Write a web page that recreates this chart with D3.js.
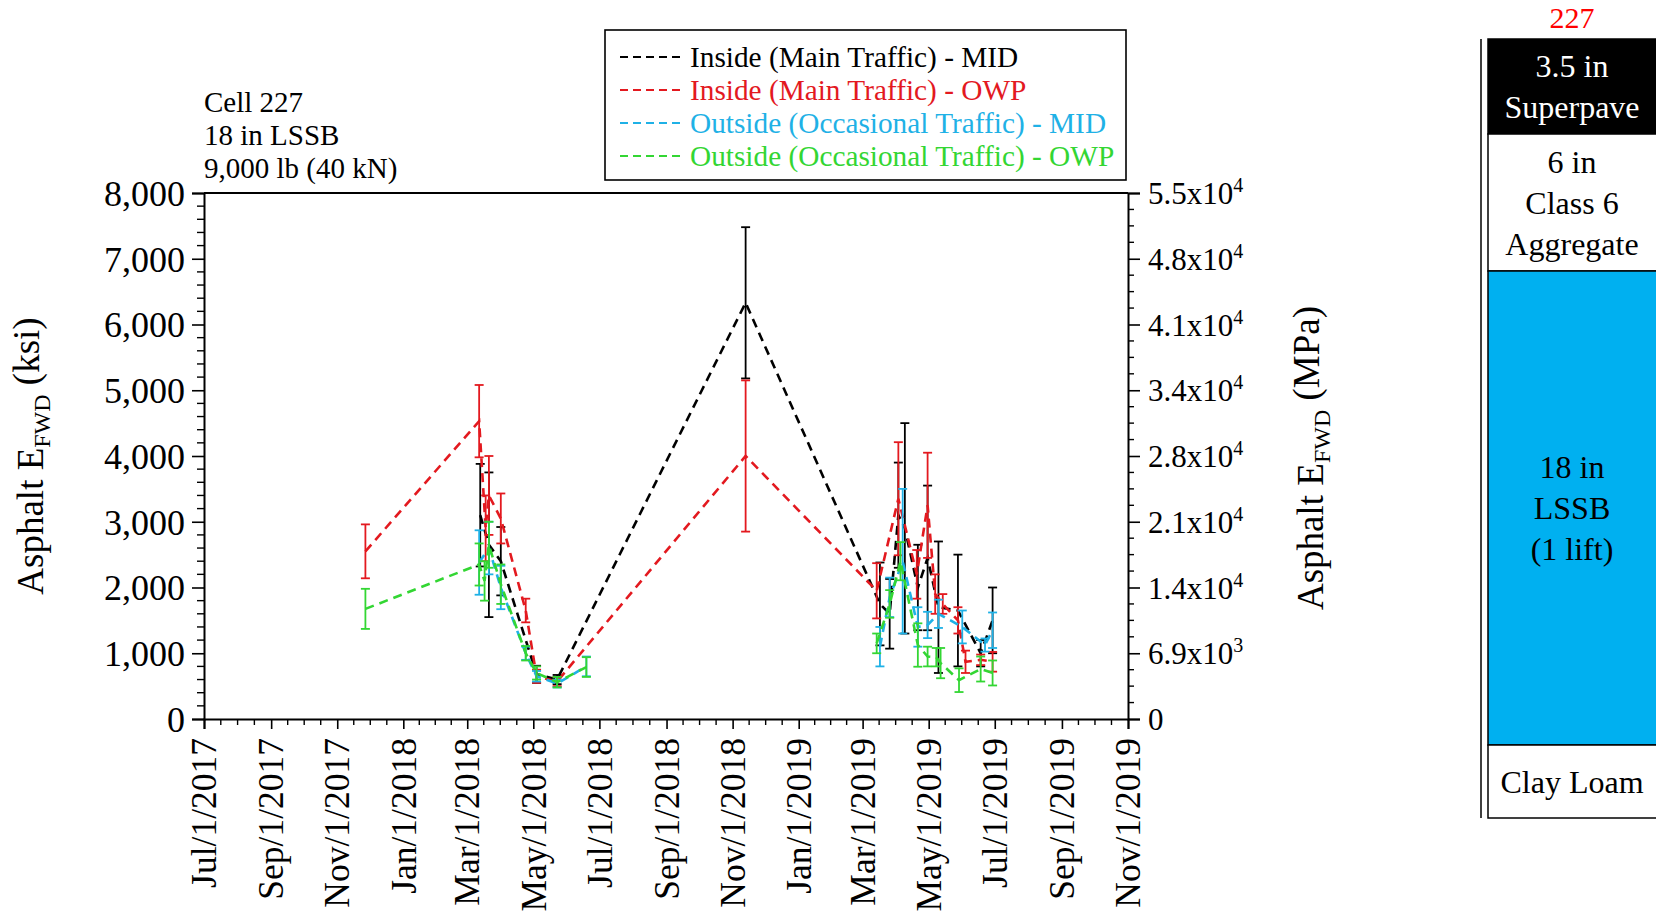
<!DOCTYPE html>
<html><head><meta charset="utf-8">
<script src="https://cdn.jsdelivr.net/npm/d3@7"></script>
<style>
body{margin:0;background:#fff}
svg{display:block}
text{font-family:"Liberation Serif","Times New Roman",serif}
</style>
</head><body>
<svg id="c" width="1656" height="918"></svg>
<script>
// ---------------- DATA ----------------
// Inside (Main Traffic) - MID
const inMidDates  = ["2018-03-13","2018-03-21","2018-04-01","2018-05-04","2018-05-23","2018-11-13",
                     "2019-03-17","2019-03-26","2019-04-03","2019-04-09","2019-04-21","2019-04-30","2019-05-10","2019-05-28","2019-06-18","2019-06-29"];
const inMidValues = [3100,2650,2400,680,600,6330, 1750,1600,3100,2900,2000,2450,1700,1650,1000,1500];
const inMidErr    = [780,1100,520,130,70,1150, 630,530,800,1600,650,1100,1000,850,200,500];

// Inside (Main Traffic) - OWP
const inOwpDates  = ["2017-11-27","2018-03-12","2018-03-18","2018-03-21","2018-04-01","2018-04-24","2018-05-04","2018-05-23","2018-11-13",
                     "2019-03-14","2019-04-03","2019-04-20","2019-04-30","2019-05-07","2019-05-14","2019-05-28","2019-06-04","2019-06-18","2019-06-29"];
const inOwpValues = [2550,4530,2900,3400,3050,1650,650,570,4000, 1950,3350,2200,3250,1900,1750,1500,870,900,870];
const inOwpErr    = [410,550,500,600,380,180,100,70,1150, 420,860,370,800,300,150,200,170,80,150];

// Outside (Occasional Traffic) - MID   (null = no reading, line break)
const outMidDates  = ["2018-03-12","2018-03-21","2018-04-01","2018-04-24","2018-05-04","2018-05-23","2018-06-19","2018-11-13",
                      "2019-03-17","2019-03-26","2019-04-07","2019-04-21","2019-04-30","2019-05-10","2019-06-01","2019-06-22","2019-06-29"];
const outMidValues = [2380,2600,2000,1000,650,540,800,null, 1100,1850,2400,1400,1430,1600,1400,1125,1350];
const outMidErr    = [490,400,330,100,80,60,150,null, 300,300,1100,300,200,215,250,100,270];

// Outside (Occasional Traffic) - OWP
const outOwpDates  = ["2017-11-27","2018-03-12","2018-03-17","2018-03-21","2018-04-01","2018-04-24","2018-05-04","2018-05-23","2018-06-19","2018-11-13",
                      "2019-03-14","2019-03-26","2019-04-05","2019-04-21","2019-04-30","2019-05-08","2019-05-12","2019-05-29","2019-06-18","2019-06-29"];
const outOwpValues = [1675,2350,2100,2650,2050,1000,700,560,790,null, 1150,1750,2400,1125,950,940,850,590,760,700];
const outOwpErr    = [305,320,300,350,300,110,100,80,150,null, 150,210,290,330,150,140,230,180,190,190];

const seriesNames  = ["Inside (Main Traffic) - MID","Inside (Main Traffic) - OWP",
                      "Outside (Occasional Traffic) - MID","Outside (Occasional Traffic) - OWP"];
const seriesColors = ["#000000","#e3191f","#1fb1e6","#33d633"];

const leftTicks = [0,1000,2000,3000,4000,5000,6000,7000,8000];
const rightTickMantissa = ["0","6.9","1.4","2.1","2.8","3.4","4.1","4.8","5.5"];
const rightTickExp      = [null,"3","4","4","4","4","4","4","4"];
const KSI_TO_MPA = 6.895;

const infoLines = ["Cell 227","18 in LSSB","9,000 lb (40 kN)"];
const cellId = "227";
const layerNames = [["3.5 in","Superpave"],["6 in","Class 6","Aggregate"],["18 in","LSSB","(1 lift)"],["Clay Loam"]];
// --------------------------------------

const parse = d3.timeParse("%Y-%m-%d");
const svg = d3.select("#c");
svg.append("rect").attr("width",1656).attr("height",918).attr("fill","#fff");

const L=204, R=1128, T=193, B=719;
const x = d3.scaleTime().domain([parse("2017-07-01"), parse("2019-11-01")]).range([L,R]);
const y = d3.scaleLinear().domain([0,8000]).range([B,T]);
const yR = d3.scaleLinear().domain([0,8000*KSI_TO_MPA]).range([B,T]);

const series = [
  {d:inMidDates, v:inMidValues, e:inMidErr},
  {d:inOwpDates, v:inOwpValues, e:inOwpErr},
  {d:outMidDates,v:outMidValues,e:outMidErr},
  {d:outOwpDates,v:outOwpValues,e:outOwpErr}
].map((s,i)=>({name:seriesNames[i], color:seriesColors[i],
   pts:s.d.map((dd,j)=>({t:parse(dd), v:s.v[j], e:s.e[j]}))}));

// ---- axes ----
const g = svg.append("g");
const xMajor = d3.timeMonth.every(2).range(parse("2017-07-01"), d3.timeDay.offset(parse("2019-11-01"),1));
const xAxis = d3.axisBottom(x).tickValues(xMajor).tickSize(10).tickFormat(d3.timeFormat("%b/%-d/%Y"));
const gx = g.append("g").attr("transform",`translate(0,${B})`).call(xAxis);
gx.select(".domain").attr("stroke-width",2);
gx.selectAll(".tick line").attr("stroke-width",1.6);
gx.selectAll(".tick text").attr("font-size",35.5).attr("fill","#000")
  .attr("text-anchor","end").attr("transform","rotate(-90)")
  .attr("x",-19).attr("y",0).attr("dy","0.33em");
const xMinor=[];
for(let i=0;i<xMajor.length-1;i++){const a=x(xMajor[i]),b=x(xMajor[i+1]);for(let k=1;k<4;k++)xMinor.push(a+(b-a)*k/4);}
g.append("g").selectAll("line").data(xMinor).join("line")
  .attr("x1",d=>d).attr("x2",d=>d).attr("y1",B).attr("y2",B+6).attr("stroke","#000").attr("stroke-width",1.4);

// left axis
const yAxis = d3.axisLeft(y).tickValues(leftTicks).tickSize(12).tickFormat(d3.format(","));
const gy = g.append("g").attr("transform",`translate(${L},0)`).call(yAxis);
gy.select(".domain").attr("stroke-width",2);
gy.selectAll(".tick line").attr("stroke-width",1.6);
gy.selectAll(".tick text").attr("font-size",36).attr("fill","#000").attr("x",-19).attr("dy","0.34em");
const yMinor = d3.range(0,8001,200).filter(v=>v%1000!==0);
g.append("g").selectAll("line").data(yMinor).join("line")
  .attr("x1",L-7).attr("x2",L).attr("y1",d=>y(d)).attr("y2",d=>y(d)).attr("stroke","#000").attr("stroke-width",1.4);

// right axis
const rTicks = leftTicks.map(v=>v*KSI_TO_MPA);
const yAxisR = d3.axisRight(yR).tickValues(rTicks).tickSize(12).tickFormat("");
const gyr = g.append("g").attr("transform",`translate(${R},0)`).call(yAxisR);
gyr.select(".domain").attr("stroke-width",2);
gyr.selectAll(".tick line").attr("stroke-width",1.6);
gyr.selectAll(".tick").each(function(d,i){
  const t = d3.select(this).append("text").attr("x",20).attr("dy","0.34em")
     .attr("font-size",31).attr("fill","#000").attr("text-anchor","start");
  if(rightTickExp[i]==null){ t.text(rightTickMantissa[i]); }
  else { t.append("tspan").text(rightTickMantissa[i]+"x10");
         t.append("tspan").attr("font-size",20).attr("dy","-0.6em").text(rightTickExp[i]); }
});
const rMinor = d3.range(0,8001,250).filter(v=>v%1000!==0);
g.append("g").selectAll("line").data(rMinor).join("line")
  .attr("x1",R).attr("x2",R+6).attr("y1",d=>y(d)).attr("y2",d=>y(d)).attr("stroke","#000").attr("stroke-width",1.4);

g.append("line").attr("x1",L).attr("x2",R).attr("y1",T).attr("y2",T).attr("stroke","#000").attr("stroke-width",2);

// axis titles
function title(xc,yc,unit){
  const t = svg.append("text").attr("transform",`translate(${xc},${yc}) rotate(-90)`)
    .attr("text-anchor","middle").attr("font-size",37).attr("fill","#000").attr("dy","0.35em");
  t.append("tspan").text("Asphalt E");
  t.append("tspan").attr("font-size",24).attr("dy","0.3em").text("FWD");
  t.append("tspan").attr("dy","-0.3em").attr("font-size",37).text(" ("+unit+")");
}
title(30,456,"ksi");
title(1310,458,"MPa");

svg.append("g").selectAll("text").data(infoLines).join("text")
  .attr("x",204).attr("y",(d,i)=>112+i*33).attr("font-size",29).attr("fill","#000").text(d=>d);

// ---- data ----
const line = d3.line().defined(d=>d.v!=null).x(d=>x(d.t)).y(d=>y(d.v));
const plot = svg.append("g");
series.forEach(s=>{
  const gs = plot.append("g");
  const valid = s.pts.filter(p=>p.v!=null);
  gs.selectAll("line.eb").data(valid).join("line").attr("class","eb")
    .attr("x1",d=>x(d.t)).attr("x2",d=>x(d.t)).attr("y1",d=>y(d.v-d.e)).attr("y2",d=>y(d.v+d.e))
    .attr("stroke",s.color).attr("stroke-width",1.8);
  ["lo","hi"].forEach(k=>{
    gs.selectAll("line.c"+k).data(valid).join("line").attr("class","c"+k)
      .attr("x1",d=>x(d.t)-4.5).attr("x2",d=>x(d.t)+4.5)
      .attr("y1",d=>y(k==="lo"?d.v-d.e:d.v+d.e)).attr("y2",d=>y(k==="lo"?d.v-d.e:d.v+d.e))
      .attr("stroke",s.color).attr("stroke-width",1.8);
  });
  gs.append("path").datum(s.pts).attr("d",line).attr("fill","none")
    .attr("stroke",s.color).attr("stroke-width",2.6).attr("stroke-dasharray","9,6");
});

// ---- legend ----
const lg = svg.append("g");
lg.append("rect").attr("x",605).attr("y",30).attr("width",521).attr("height",150)
  .attr("fill","#fff").attr("stroke","#000").attr("stroke-width",1.6);
series.forEach((s,i)=>{
  const yy = 57 + i*33;
  lg.append("line").attr("x1",620).attr("x2",685).attr("y1",yy).attr("y2",yy)
    .attr("stroke",s.color).attr("stroke-width",1.8).attr("stroke-dasharray","8,5");
  lg.append("text").attr("x",690).attr("y",yy).attr("dy","0.34em").attr("font-size",29.3)
    .attr("fill",s.color).text(s.name);
});

// ---- layer panel ----
const pp = svg.append("g");
const bounds = [39,134,271,745,818];
const pL=1488, pR=1660;
const layerFill = ["#000000","#ffffff","#00b0f0","#ffffff"];
const layerText = ["#ffffff","#000000","#000000","#000000"];
layerNames.forEach((lines,i)=>{
  const y0=bounds[i], y1=bounds[i+1];
  pp.append("rect").attr("x",pL).attr("y",y0).attr("width",pR-pL).attr("height",y1-y0)
    .attr("fill",layerFill[i]).attr("stroke","#000").attr("stroke-width",1.5);
  const cy=(y0+y1)/2, lh=41;
  lines.forEach((t,j)=>{
    pp.append("text").attr("x",1572).attr("y",cy+(j-(lines.length-1)/2)*lh).attr("dy","0.35em")
      .attr("text-anchor","middle").attr("font-size",32).attr("fill",layerText[i]).text(t);
  });
});
pp.append("line").attr("x1",1481).attr("x2",1481).attr("y1",bounds[0]).attr("y2",bounds[4]).attr("stroke","#000").attr("stroke-width",1.5);
pp.append("text").attr("x",1572).attr("y",28).attr("text-anchor","middle").attr("font-size",30)
  .attr("fill","#ff0000").text(cellId);
</script>
</body></html>
